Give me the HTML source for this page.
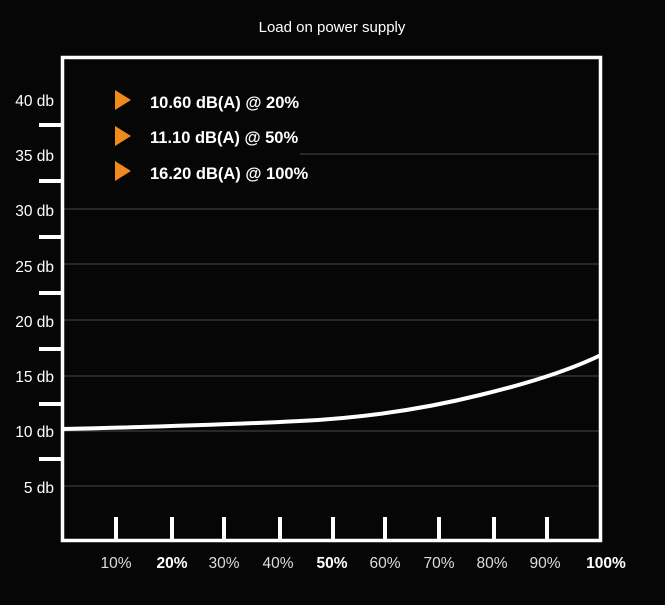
<!DOCTYPE html>
<html><head><style>
body{margin:0;background:#060606;width:665px;height:600px;overflow:hidden;font-family:"Liberation Sans",sans-serif;}
</style></head><body>
<svg width="665" height="600" viewBox="0 0 665 600" xmlns="http://www.w3.org/2000/svg">
<rect width="665" height="600" fill="#060606"/>
<text x="332" y="32" fill="#fff" font-size="15" text-anchor="middle">Load on power supply</text>
<g stroke="#4a4a4a" stroke-width="1">
<line x1="300" y1="154" x2="600" y2="154"/>
<line x1="63" y1="209" x2="600" y2="209"/>
<line x1="63" y1="264" x2="600" y2="264"/>
<line x1="63" y1="320" x2="600" y2="320"/>
<line x1="63" y1="376" x2="600" y2="376"/>
<line x1="63" y1="431" x2="600" y2="431"/>
<line x1="63" y1="486" x2="600" y2="486"/>
</g>
<rect x="62.5" y="57.5" width="538" height="483" fill="none" stroke="#fff" stroke-width="3.5"/>
<g stroke="#fff" stroke-width="4">
<line x1="39" y1="125" x2="62" y2="125"/>
<line x1="39" y1="181" x2="62" y2="181"/>
<line x1="39" y1="237" x2="62" y2="237"/>
<line x1="39" y1="293" x2="62" y2="293"/>
<line x1="39" y1="349" x2="62" y2="349"/>
<line x1="39" y1="404" x2="62" y2="404"/>
<line x1="39" y1="459" x2="62" y2="459"/>
<line x1="116" y1="517" x2="116" y2="541"/>
<line x1="172" y1="517" x2="172" y2="541"/>
<line x1="224" y1="517" x2="224" y2="541"/>
<line x1="280" y1="517" x2="280" y2="541"/>
<line x1="333" y1="517" x2="333" y2="541"/>
<line x1="385" y1="517" x2="385" y2="541"/>
<line x1="439" y1="517" x2="439" y2="541"/>
<line x1="494" y1="517" x2="494" y2="541"/>
<line x1="547" y1="517" x2="547" y2="541"/>
</g>
<g fill="#fff" font-size="15.5" text-anchor="end">
<text x="54" y="106">40 db</text>
<text x="54" y="161">35 db</text>
<text x="54" y="216">30 db</text>
<text x="54" y="272">25 db</text>
<text x="54" y="327">20 db</text>
<text x="54" y="382">15 db</text>
<text x="54" y="437">10 db</text>
<text x="54" y="493">5 db</text>
</g>
<g fill="#ddd" font-size="15.5" text-anchor="middle">
<text x="116" y="568">10%</text>
<text x="172" y="568" font-weight="bold" fill="#fff">20%</text>
<text x="224" y="568">30%</text>
<text x="278" y="568">40%</text>
<text x="332" y="568" font-weight="bold" fill="#fff">50%</text>
<text x="385" y="568">60%</text>
<text x="439" y="568">70%</text>
<text x="492" y="568">80%</text>
<text x="545" y="568">90%</text>
<text x="606" y="568" font-weight="bold" fill="#fff">100%</text>
</g>
<path d="M62 429 C150 427 240 424 300 421 C360 418 420 410 480 395 C530 383 570 370 601 355" fill="none" stroke="#fff" stroke-width="4"/>
<g fill="#f08a1c">
<polygon points="115,90 131,100 115,110"/>
<polygon points="115,126 131,136 115,146"/>
<polygon points="115,161 131,171 115,181"/>
</g>
<g fill="#fff" font-size="16.5" font-weight="bold">
<text x="150" y="108">10.60 dB(A) @ 20%</text>
<text x="150" y="143">11.10 dB(A) @ 50%</text>
<text x="150" y="179">16.20 dB(A) @ 100%</text>
</g>
</svg>
</body></html>
